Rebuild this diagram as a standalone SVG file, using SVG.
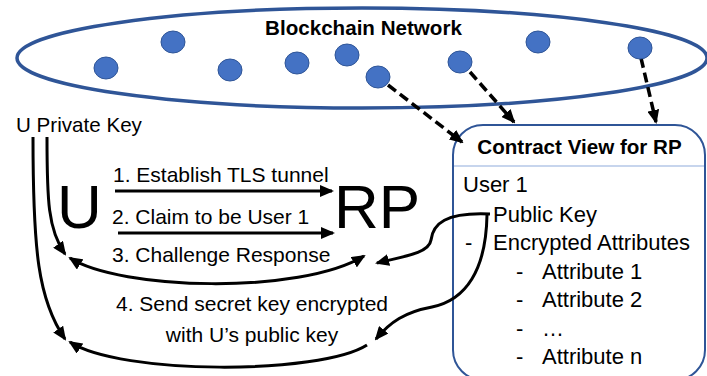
<svg xmlns="http://www.w3.org/2000/svg" width="707" height="376" viewBox="0 0 707 376">
<style>
text{font-family:"Liberation Sans",Arial,sans-serif;fill:#000}
.b{font-weight:bold;font-size:20.6px}
.t{font-size:21px}
.bx{font-size:22px}
.big{font-size:62px}
.dot{fill:#4472C4;stroke:#2F5597;stroke-width:1}
.c{fill:none;stroke:#000;stroke-width:3}
.d{fill:none;stroke:#000;stroke-width:3.5;stroke-dasharray:10 5}
</style>
<defs>
<marker id="ah" markerUnits="userSpaceOnUse" markerWidth="14" markerHeight="12" refX="12" refY="6" orient="auto-start-reverse" viewBox="0 0 14 12">
<path d="M0,0 L14,6 L0,12 z" fill="#000"/>
</marker>
</defs>
<g id="network">
<ellipse cx="362" cy="58" rx="345" ry="50" fill="none" stroke="#2F5597" stroke-width="3.5"/>
<text class="b" x="363.5" y="35" text-anchor="middle">Blockchain Network</text>
</g>
<g id="contract-view">
<rect x="453" y="125" width="252" height="255" rx="30" ry="30" fill="#fff" stroke="#2F5597" stroke-width="2"/>
<line x1="454" y1="166" x2="704" y2="166" stroke="#B4C7E7" stroke-width="1.5"/>
<text class="b" x="579.5" y="154" text-anchor="middle">Contract View for RP</text>
<text class="bx" x="463" y="192">User 1</text>
<text class="bx" x="493" y="222">Public Key</text>
<text class="bx" x="465" y="250">-</text>
<text class="bx" x="493" y="250">Encrypted Attributes</text>
<text class="bx" x="516" y="279">-</text>
<text class="bx" x="542" y="279">Attribute 1</text>
<text class="bx" x="516" y="307">-</text>
<text class="bx" x="542" y="307">Attribute 2</text>
<text class="bx" x="516" y="336">-</text>
<text class="bx" x="542" y="336">…</text>
<text class="bx" x="516" y="364">-</text>
<text class="bx" x="542" y="364">Attribute n</text>
</g>
<g id="user">
<text class="big" x="57" y="228">U</text>
<text x="16" y="132" style="font-size:20.6px">U Private Key</text>
</g>
<g id="rp">
<text class="big" x="334" y="228">RP</text>
</g>
<g id="connectors">
<line class="d" x1="388" y1="85" x2="462" y2="142" marker-end="url(#ah)"/>
<line class="d" x1="470" y1="72" x2="514" y2="122" marker-end="url(#ah)"/>
<line class="d" x1="641" y1="58" x2="656" y2="122" marker-end="url(#ah)"/>
<line class="c" x1="115" y1="191" x2="332" y2="191" marker-end="url(#ah)"/>
<line class="c" x1="118" y1="233" x2="333" y2="233" marker-end="url(#ah)"/>
<path class="c" d="M70 258 C120 290 300 295 364 256" marker-start="url(#ah)" marker-end="url(#ah)"/>
<path class="c" d="M367 345 C320 375 120 375 70 342" marker-end="url(#ah)"/>
<path class="c" d="M33 137 C33 250 38 300 65 339" marker-end="url(#ah)"/>
<path class="c" d="M47 137 C47 200 48 230 65 254" marker-end="url(#ah)"/>
<path class="c" d="M490 214 C445 212 433 224 431 240 C429 254 400 257 377 263" marker-end="url(#ah)"/>
<path class="c" d="M487 215 C486 270 466 300 432 307 C405 312 390 322 376 339" marker-end="url(#ah)"/>
</g>
<g id="labels">
<text class="t" x="113" y="182">1. Establish TLS tunnel</text>
<text class="t" x="112" y="224">2. Claim to be User 1</text>
<text class="t" x="112" y="262">3. Challenge Response</text>
<text class="t" x="252" y="311" text-anchor="middle">4. Send secret key encrypted</text>
<text class="t" x="252" y="342" text-anchor="middle">with U’s public key</text>
</g>
<g id="nodes">
<ellipse class="dot" cx="106" cy="68" rx="12" ry="11"/>
<ellipse class="dot" cx="173" cy="42" rx="12" ry="11"/>
<ellipse class="dot" cx="230" cy="70" rx="12" ry="11"/>
<ellipse class="dot" cx="297" cy="63" rx="12" ry="11"/>
<ellipse class="dot" cx="347" cy="55" rx="12" ry="11"/>
<ellipse class="dot" cx="378" cy="77" rx="12" ry="11"/>
<ellipse class="dot" cx="460" cy="62" rx="12" ry="11"/>
<ellipse class="dot" cx="538" cy="42" rx="12" ry="11"/>
<ellipse class="dot" cx="640" cy="48" rx="12" ry="11"/>
</g>
</svg>
